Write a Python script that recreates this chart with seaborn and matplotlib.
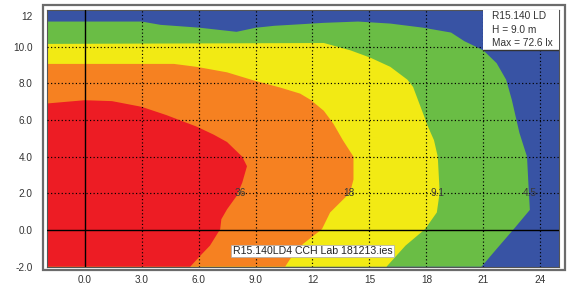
import matplotlib
matplotlib.use("Agg")
import matplotlib.pyplot as plt
import matplotlib.transforms as mtransforms
from matplotlib.patches import Rectangle
import seaborn as sns

# ---------------- data ----------------
# isolux contour boundaries (x in m, y in m), each running from left edge to bottom edge
iso45_x = [-2, 3, 4, 6, 8, 9, 10, 11, 12.6, 14.4, 16.1, 17.8, 19.3, 20, 21, 21.7, 22.2, 22.5, 22.9, 23.3, 23.4, 23.45, 22.6, 21.7, 20.9]
iso45_y = [11.37, 11.37, 11.19, 11.04, 10.81, 11.03, 11.14, 11.2, 11.3, 11.37, 11.26, 11.04, 10.77, 10.3, 9.8, 9.1, 8.2, 7.1, 5.3, 4.0, 2.0, 1.1, 0.05, -1.03, -2]

iso91_x = [-2, 12.6, 14, 15.05, 16.1, 17, 17.3, 17.7, 18.1, 18.4, 18.6, 18.7, 18.55, 17.93, 16.9, 15.9]
iso91_y = [10.15, 10.2, 9.8, 9.4, 8.9, 8.2, 7.8, 6.7, 5.6, 4.9, 4.0, 2.04, 0.96, 0.05, -0.85, -2]

iso18_x = [-2, 4.7, 5.9, 7.5, 8.9, 10.3, 11.35, 11.9, 12.6, 13.1, 13.6, 14.16, 14.16, 13.98, 12.93, 12.5, 11.5, 10.83, 10.56]
iso18_y = [9.06, 9.06, 8.9, 8.6, 8.16, 7.77, 7.44, 7.1, 6.5, 5.8, 4.9, 4.0, 2.76, 2.04, 0.96, 0.05, -0.76, -1.57, -2]

iso36_x = [-2, 0, 1.44, 3, 4.3, 5.9, 6.8, 7.5, 8.3, 8.55, 8.3, 8.0, 7.5, 7.2, 7.14, 6.6, 6.1, 5.56]
iso36_y = [6.9, 7.08, 7.03, 6.72, 6.27, 5.64, 5.2, 4.8, 4.0, 3.48, 2.58, 1.85, 1.13, 0.59, 0.05, -0.85, -1.39, -2]

levels = ["4.5", "9.1", "18", "36"]
label_x = [23.45, 18.6, 13.9, 8.2]
label_y = [2.0, 2.0, 2.0, 2.0]

x_ticks = [0, 3, 6, 9, 12, 15, 18, 21, 24]
x_tick_labels = ["0.0", "3.0", "6.0", "9.0", "12", "15", "18", "21", "24"]
y_ticks = [-2, 0, 2, 4, 6, 8, 10, 12]
y_tick_labels = ["-2.0", "0.0", "2.0", "4.0", "6.0", "8.0", "10.0", "12"]

info_lines = ["R15.140 LD", "H = 9.0 m", "Max = 72.6 lx"]
file_label = "R15.140LD4 CCH Lab 181213.ies"

# ---------------- style ----------------
sns.set_theme(style="white")
plt.rcParams["font.family"] = ["Liberation Sans", "DejaVu Sans"]

c_blue = "#3853A4"
c_green = "#6ABD45"
c_yellow = "#F2EA14"
c_orange = "#F68121"
c_red = "#ED1C24"

fig = plt.figure(figsize=(5.7, 2.85), dpi=100)
ax = fig.add_axes([0.0819, 0.0642, 0.8993, 0.9007])
ax.set_xlim(-2, 25)
ax.set_ylim(-2, 12)
ax.set_facecolor(c_blue)

bands = [(iso45_x, iso45_y, c_green), (iso91_x, iso91_y, c_yellow),
         (iso18_x, iso18_y, c_orange), (iso36_x, iso36_y, c_red)]
for bx, by, col in bands:
    ax.fill(list(bx) + [-2], list(by) + [-2], color=col, lw=0, zorder=1)

# dotted grid on interior ticks
dot = (0, (1.0, 2.0))
for xv in x_ticks:
    if -2 < xv < 25 and xv != 0:
        ax.axvline(xv, color="black", lw=0.85, ls=dot, zorder=3)
for yv in y_ticks:
    if -2 < yv < 12 and yv != 0:
        ax.axhline(yv, color="black", lw=0.85, ls=dot, zorder=3)
ax.axvline(0, color="black", lw=1.0, zorder=3)
ax.axhline(0, color="black", lw=1.0, zorder=3)

# contour labels
for lx, ly, lt in zip(label_x, label_y, levels):
    ax.text(lx, ly, lt, fontsize=7.3, color="#3a3a3a", ha="center", va="center", zorder=4)

# ticks
ax.set_xticks(x_ticks)
ax.set_xticklabels(x_tick_labels)
ax.set_yticks(y_ticks)
ax.set_yticklabels(y_tick_labels)
ax.tick_params(axis="both", length=0, labelsize=7.2, colors="#333333")
ax.tick_params(axis="y", pad=10)
ax.tick_params(axis="x", pad=6)
# the top label sits a little inside the frame in the reference
top_lab = ax.get_yticklabels()[-1]
top_lab.set_transform(top_lab.get_transform() + mtransforms.ScaledTranslation(0, -6 / 100, fig.dpi_scale_trans))

for s in ax.spines.values():
    s.set_color("#555555")
    s.set_linewidth(0.8)

# outer frame
fig.patches.append(Rectangle((42.5 / 570, 1 - 270 / 285), (565 - 42.5) / 570, (270 - 5) / 285,
                             transform=fig.transFigure, fill=False, ec="#6b6b6b", lw=1.6))

# info box top right
ax.add_patch(Rectangle((0.8517, 0.8442), 1 - 0.8517, 1 - 0.8442, transform=ax.transAxes,
                       fc="white", ec="none", zorder=5))
ax.plot([0.8517, 1.0], [0.8442, 0.8442], transform=ax.transAxes, color="#333333", lw=1.0, zorder=6)
for yy, line in zip([0.9766, 0.922, 0.8714], info_lines):
    ax.text(0.868, yy, line, transform=ax.transAxes, fontsize=7.3, color="#333333",
            ha="left", va="center", zorder=7)

# file label box
ax.text(0.5185, 0.061, file_label, transform=ax.transAxes, fontsize=7.6, color="#222222",
        ha="center", va="center", zorder=7,
        bbox=dict(boxstyle="square,pad=0.12", fc="white", ec="#aaaaaa", lw=0.5))

fig.savefig("out.png", dpi=100)
